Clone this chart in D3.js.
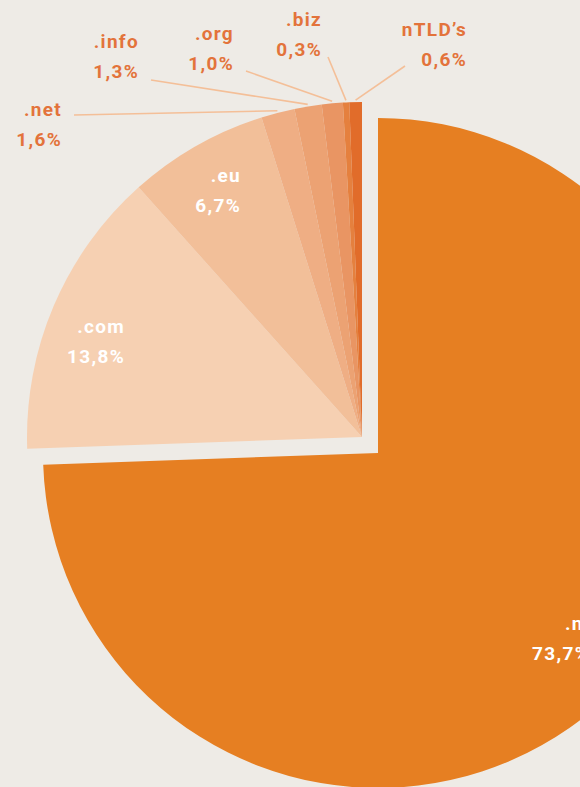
<!DOCTYPE html>
<html>
<head>
<meta charset="utf-8">
<script src="https://cdn.jsdelivr.net/npm/d3@7"></script>
<style>
  body { margin: 0; background: #eeebe6; overflow: hidden; }
  svg { display: block; }
</style>
</head>
<body>
<svg></svg>
<script>
const w = 580;
const h = 787;

// data
const domains = ['.nl', '.com', '.eu', '.net', '.info', '.org', '.biz', "nTLD\u2019s"];
const shares = [73.7, 13.8, 6.7, 1.6, 1.3, 1.0, 0.3, 0.6];
const shareLabels = ['73,7%', '13,8%', '6,7%', '1,6%', '1,3%', '1,0%', '0,3%', '0,6%'];

const colors = ['#e67f22', '#f6d0b2', '#f2bf99', '#efae84', '#eca273', '#e99563', '#e5803e', '#e16c2a'];

// layout
const r = 335;
const nlCenter = [378, 453];
const restCenter = [362, 437];
// label anchors (right aligned) and whether it sits inside the slice
const labelPos = [
    [590, 630, true],
    [125, 333, true],
    [241, 182, true],
    [62, 116, false],
    [139, 48, false],
    [234, 40, false],
    [322, 26, false],
    [467, 36, false]
];
const lineStart = [null, null, null, [74, 115], [151, 80], [246, 71], [328, 57], [405, 66]];

const svg = d3.select('svg').attr('width', w).attr('height', h);

svg.append('rect').attr('width', w).attr('height', h).attr('fill', '#eeebe6');

const pie = d3.pie().sort(null).value((d) => d);
const arcs = pie(shares);
const arc = d3.arc().innerRadius(0).outerRadius(r);

const color = d3.scaleOrdinal().domain(domains).range(colors);

// leader lines first, under the slices
svg.selectAll('line.leader')
    .data(arcs.filter((d, i) => lineStart[i]))
    .enter()
    .append('line')
    .attr('class', 'leader')
    .attr('x1', (d) => lineStart[d.index][0])
    .attr('y1', (d) => lineStart[d.index][1])
    .attr('x2', (d) => restCenter[0] + (r + 2) * Math.sin((d.startAngle + d.endAngle) / 2))
    .attr('y2', (d) => restCenter[1] - (r + 2) * Math.cos((d.startAngle + d.endAngle) / 2))
    .attr('stroke', '#f4bf98')
    .attr('stroke-width', 1.6);

svg.selectAll('path.slice')
    .data(arcs)
    .enter()
    .append('path')
    .attr('class', 'slice')
    .attr('transform', (d, i) => {
        const c = i === 0 ? nlCenter : restCenter;
        return 'translate(' + c[0] + ',' + c[1] + ')';
    })
    .attr('d', arc)
    .attr('fill', (d, i) => color(domains[i]));

const labels = svg.selectAll('text.lbl')
    .data(domains)
    .enter()
    .append('text')
    .attr('class', 'lbl')
    .attr('text-anchor', 'end')
    .attr('font-family', 'Roboto, sans-serif')
    .attr('font-weight', 700)
    .attr('font-size', 19)
    .attr('letter-spacing', 1.3)
    .attr('fill', (d, i) => (labelPos[i][2] ? '#ffffff' : '#e3733b'));

labels.append('tspan')
    .attr('x', (d, i) => labelPos[i][0])
    .attr('y', (d, i) => labelPos[i][1])
    .text((d) => d);

labels.append('tspan')
    .attr('x', (d, i) => labelPos[i][0])
    .attr('y', (d, i) => labelPos[i][1] + 30)
    .text((d, i) => shareLabels[i]);
</script>
</body>
</html>
